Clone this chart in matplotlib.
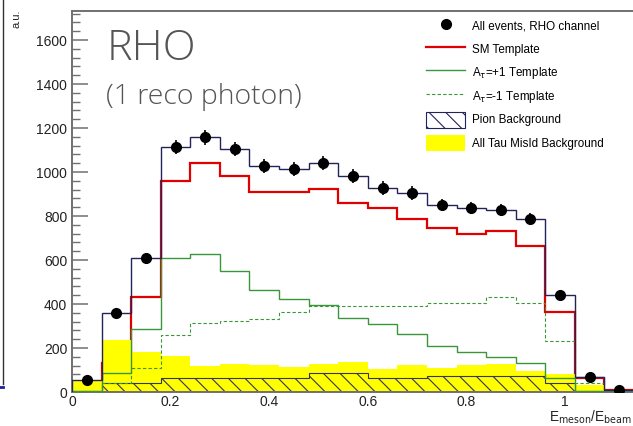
import numpy as np
import matplotlib
matplotlib.use("Agg")
import matplotlib.pyplot as plt
from matplotlib.lines import Line2D
from matplotlib.patches import Patch
from matplotlib.ticker import MultipleLocator, FixedLocator

# E_meson / E_beam histograms, 20 bins of 0.06
edges = np.linspace(0.0, 1.2, 21)
centers = 0.5 * (edges[:-1] + edges[1:])

all_events = [55, 359, 609, 1114, 1159, 1105, 1027, 1014, 1041, 982,
              927, 905, 850, 836, 827, 786, 443, 68, 9, 2]
all_events_err = [8, 19, 25, 33, 34, 33, 32, 32, 32, 31,
                  30, 30, 29, 29, 29, 28, 21, 8, 3, 1]
sm_template = [3, 132, 432, 960, 1043, 982, 909, 909, 923, 859,
               836, 786, 745, 718, 732, 664, 364, 64, 8, 1]
atau_plus = [4, 86, 286, 609, 627, 550, 464, 423, 395, 336,
             309, 263, 211, 182, 159, 132, 64, 3, 1, 0]
atau_minus = [2, 41, 109, 257, 314, 323, 332, 364, 391, 391,
              392, 391, 405, 405, 432, 405, 232, 41, 5, 0]
# stacked backgrounds: pion on the bottom, tau mis-ID on top (cumulative)
pion_bkg = [5, 41, 41, 62, 62, 62, 62, 62, 87, 88,
            62, 62, 72, 72, 72, 72, 41, 6, 2, 0]
misid_stack = [50, 236, 183, 162, 118, 126, 125, 114, 127, 136,
               105, 123, 109, 123, 127, 95, 82, 30, 4, 1]

NAVY = "#23235c"
RED = "#e00000"
GREEN = "#3a963a"
YELLOW = "#ffff00"
FRAME = "#707070"

plt.rcParams.update({
    "font.family": ["Liberation Sans", "DejaVu Sans"],
    "hatch.linewidth": 0.8,
})

W, H = 633, 426
fig = plt.figure(figsize=(W / 100, H / 100), dpi=100)
fig.patch.set_facecolor("white")

# axis frame: x=0 at px 72, x=1 at px 565; y=0 at px 392 (from top)
px_per_x = 493.0
ax = fig.add_axes([72 / W, (H - 392) / H, 1.2 * px_per_x / W, (392 - 11) / H])
ax.set_xlim(0, 1.2)
ax.set_ylim(0, 1732)

ax.stairs(sm_template, edges, color=RED, lw=1.6, baseline=None, zorder=1.8)
ax.stairs(misid_stack, edges, fill=True, facecolor=YELLOW, edgecolor="none", zorder=2)
ax.stairs(pion_bkg, edges, fill=True, facecolor="none", edgecolor="#35354f",
          hatch="\\\\", lw=0.8, zorder=2.5)
ax.stairs(atau_plus, edges, color=GREEN, lw=1.0, baseline=None, zorder=3)
ax.stairs(atau_minus, edges, color=GREEN, lw=0.8, ls=(0, (3, 2)), baseline=None, zorder=3)
ax.stairs(all_events, edges, color=NAVY, lw=1.0, zorder=3.5)
ax.errorbar(centers, all_events, yerr=all_events_err, fmt="o", color="black",
            ms=7, elinewidth=1.2, capsize=0, zorder=5)

ax.set_axisbelow(True)
for side in ("left", "top", "bottom"):
    ax.spines[side].set_color(FRAME)
    ax.spines[side].set_linewidth(1.4)
ax.spines["right"].set_visible(False)

ax.xaxis.set_major_locator(FixedLocator([0, 0.2, 0.4, 0.6, 0.8, 1.0]))
ax.set_xticklabels(["0", "0.2", "0.4", "0.6", "0.8", "1"])
ax.yaxis.set_major_locator(MultipleLocator(200))
ax.yaxis.set_minor_locator(MultipleLocator(40))
ax.tick_params(axis="both", which="major", direction="in", length=11.5, width=1.1,
               color=FRAME, labelsize=10, labelcolor="#222222", pad=3.5)
ax.tick_params(axis="y", which="minor", direction="in", length=5.8, width=1.0, color=FRAME)
ax.tick_params(axis="x", which="major", pad=2.5)

handles = [
    Line2D([], [], marker="o", ls="none", color="black", ms=7),
    Line2D([], [], color=RED, lw=1.6),
    Line2D([], [], color=GREEN, lw=1.0),
    Line2D([], [], color=GREEN, lw=0.8, ls=(0, (3, 2))),
    Patch(facecolor="white", edgecolor=NAVY, hatch="\\\\", lw=0.8),
    Patch(facecolor=YELLOW, edgecolor="none"),
]
labels = [
    "All events, RHO channel",
    "SM Template",
    r"A$_{\tau}$=+1 Template",
    r"A$_{\tau}$=-1 Template",
    "Pion Background",
    "All Tau MisId Background",
]
leg = ax.legend(handles, labels, loc="upper left",
                bbox_to_anchor=(421 / W, 1 - 13 / H), bbox_transform=fig.transFigure,
                borderaxespad=0, borderpad=0.4, fontsize=8.4, frameon=True,
                fancybox=False, framealpha=1, edgecolor="none", facecolor="white",
                handlelength=3.4, handleheight=1.75, handletextpad=0.6, labelspacing=0.6)
leg.set_zorder(10)

# channel tag
tag_font = dict(family=["Open Sans", "Lato", "DejaVu Sans"], fontweight="light",
                color="#555555", va="baseline")
fig.text(107 / W, 1 - 60 / H, "RHO", fontsize=31, **tag_font)
fig.text(106 / W, 1 - 104 / H, "(1 reco photon)", fontsize=20.5, **tag_font)

fig.text(549 / W, 4 / H, r"E$_{\rm meson}$/E$_{\rm beam}$", fontsize=9.8,
         color="#222222", va="baseline")
fig.text(16 / W, 1 - 9 / H, "a.u.", fontsize=8, rotation=90, ha="center", va="top",
         color="#222222")

# edge of the neighbouring panel
fig.add_artist(Line2D([2.5 / W, 2.5 / W], [1, (H - 384) / H], color="#333333", lw=1.0,
                      transform=fig.transFigure))
fig.add_artist(Line2D([0, 3 / W], [(H - 387) / H, (H - 387) / H], color="#2020a0", lw=2.0,
                      transform=fig.transFigure))

fig.savefig("out.png", dpi=100)
